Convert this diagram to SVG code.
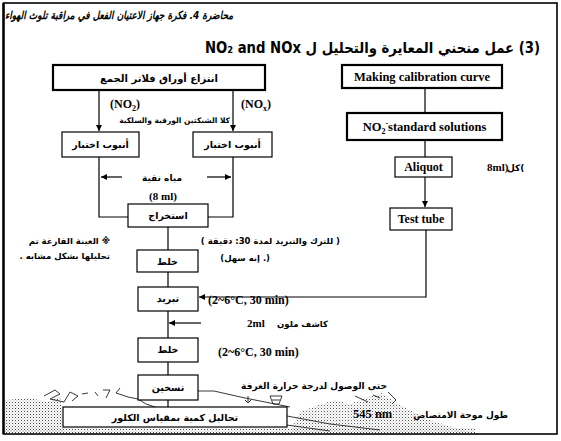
<svg xmlns="http://www.w3.org/2000/svg" width="561" height="441" viewBox="0 0 561 441">
<defs>
<style>
.ar{font-family:"DejaVu Sans",sans-serif;font-weight:bold;fill:#000}
.lat{font-family:"Liberation Serif","Times New Roman",serif;font-weight:bold;fill:#000}
.box{fill:#fff;stroke:#000;stroke-width:1.2}
.boxb{fill:#fff;stroke:#000;stroke-width:2.2}
.ln{fill:none;stroke:#000;stroke-width:1.2}
.deco{fill:none;stroke:#222;stroke-width:0.9}
</style>
<marker id="ah" markerWidth="8" markerHeight="8" refX="6" refY="3" orient="auto" markerUnits="userSpaceOnUse"><path d="M0,0 L6,3 L0,6 Z" fill="#000"/></marker>
<pattern id="stip" width="3" height="3" patternUnits="userSpaceOnUse"><rect x="0" y="0" width="1" height="1" fill="#444"/><rect x="1.5" y="1.5" width="1" height="1" fill="#999"/></pattern>
</defs>

<rect width="561" height="441" fill="#fff"/>
<!-- page frame -->
<rect x="3.5" y="3" width="553.5" height="431" fill="none" stroke="#000" stroke-width="1.6"/>
<line x1="3.5" y1="3" x2="3.5" y2="434" stroke="#000" stroke-width="2.4"/>

<!-- headings -->
<text class="ar" x="233" y="19" font-size="11" font-style="italic" direction="rtl" text-anchor="start" textLength="228" lengthAdjust="spacingAndGlyphs">محاضرة 4. فكرة جهاز الاعتيان الفعل في مراقبة تلوث الهواء</text>
<text class="ar" x="540" y="53" font-size="15" direction="rtl" text-anchor="start" textLength="335" lengthAdjust="spacingAndGlyphs">(3) عمل منحني المعايرة والتحليل ل NO₂ and NOx</text>

<!-- scenery sketch along the bottom -->
<g id="scenery">
<path d="M5,400 L30,398 L48,402 L60,396 L64,432 L5,432 Z" fill="url(#stip)"/>
<path d="M290,432 L300,412 L318,405 L335,400 L350,404 L365,398 L382,393 L395,402 L410,410 L430,420 L455,428 L470,432 Z" fill="url(#stip)" opacity="0.9"/>
<rect x="5" y="428" width="470" height="5" fill="url(#stip)"/>
<path class="deco" d="M44,396 L55,390 L60,394 L50,399 L64,402 L70,392 L78,396 L72,401"/>
<path class="deco" d="M82,394 L88,393 M95,392 L98,396 M103,390 L110,390 L106,398"/>
<path class="deco" d="M120,388 L116,393 L128,397 L138,399 L146,404 L158,408"/>
<path class="deco" d="M198,391 L214,391 L245,398 L270,403 L290,407"/>
<path class="deco" d="M287,416 L330,424 L380,430 M287,425 L330,431"/>
<path class="deco" d="M248,396 L248,402 M245,400 L248,403 L251,400"/>
<path class="deco" d="M270,396 L282,396 L279,404 L273,404 Z M272,400 L280,400"/>
<path class="deco" d="M355,396 L368,402 M373,395 L380,398 M388,392 L396,400 L392,404"/>
</g>

<!-- connectors -->
<g id="connectors">
<line class="ln" x1="99" y1="90" x2="99" y2="131" marker-end="url(#ah)"/>
<line class="ln" x1="233" y1="90" x2="233" y2="131" marker-end="url(#ah)"/>
<polyline class="ln" points="99,157 99,217 128,217"/>
<polyline class="ln" points="233,157 233,217 208,217"/>
<line class="ln" x1="122" y1="177" x2="101" y2="177" marker-end="url(#ah)"/>
<line class="ln" x1="207" y1="177" x2="231" y2="177" marker-end="url(#ah)"/>
<line class="ln" x1="168" y1="227" x2="168" y2="250"/>
<line class="ln" x1="168" y1="272" x2="168" y2="287"/>
<line class="ln" x1="168" y1="311" x2="168" y2="338"/>
<line class="ln" x1="201" y1="323" x2="169" y2="323" marker-end="url(#ah)"/>
<line class="ln" x1="168" y1="362" x2="168" y2="375"/>
<line class="ln" x1="168" y1="400" x2="168" y2="407"/>
<line class="ln" x1="425" y1="88" x2="425" y2="113"/>
<line class="ln" x1="425" y1="140" x2="425" y2="157"/>
<line class="ln" x1="425" y1="177" x2="425" y2="207" marker-end="url(#ah)"/>
<polyline class="ln" points="426,230 426,297 199,297" marker-end="url(#ah)"/>
</g>

<!-- left column: sample analysis -->
<g id="remove-filters">
<rect class="boxb" x="53" y="65" width="212" height="25" stroke-width="2.6"/>
<text class="ar" x="159" y="82" font-size="10" text-anchor="middle" direction="rtl">انتزاع أوراق فلاتر الجمع</text>
</g>
<g id="labels-nox">
<text class="lat" x="110" y="108" font-size="12">(NO<tspan font-size="8" dy="3">2</tspan><tspan dy="-3">)</tspan></text>
<text class="lat" x="241" y="108" font-size="12">(NO<tspan font-size="8" dy="3">x</tspan><tspan dy="-3">)</tspan></text>
<text class="ar" x="230" y="123" font-size="7.5" direction="rtl" text-anchor="start">كلا الشبكتين الورقية والسلكية</text>
</g>
<g id="tube-left">
<rect class="box" x="62" y="132" width="77" height="25"/>
<text class="ar" x="100.5" y="148" font-size="9.5" text-anchor="middle" direction="rtl">أنبوب اختبار</text>
</g>
<g id="tube-right">
<rect class="box" x="193" y="132" width="79" height="25"/>
<text class="ar" x="232.5" y="148" font-size="9.5" text-anchor="middle" direction="rtl">أنبوب اختبار</text>
</g>
<g id="pure-water">
<text class="ar" x="162" y="181" font-size="9" text-anchor="middle" direction="rtl">مياه نقية</text>
<text class="lat" x="163" y="200" font-size="11" text-anchor="middle">(8 ml)</text>
</g>
<g id="extract">
<rect class="box" x="128" y="204" width="80" height="23"/>
<text class="ar" x="168" y="219" font-size="9.5" text-anchor="middle" direction="rtl">استخراج</text>
</g>
<g id="blank-note">
<text class="ar" x="110" y="244" font-size="8.5" direction="rtl" text-anchor="start">※ العينة الفارغة تم</text>
<text class="ar" x="110" y="259" font-size="8.5" direction="rtl" text-anchor="start">تحليلها بشكل مشابه .</text>
</g>
<g id="standing-note">
<text class="ar" x="340" y="244" font-size="8.5" direction="rtl" text-anchor="start">( للترك والتبريد لمدة   30: دقيقة )</text>
<text class="ar" x="270" y="261" font-size="8.5" direction="rtl" text-anchor="start">(. إنه سهل)</text>
</g>
<g id="mix-1">
<rect class="box" x="137" y="250" width="61" height="22"/>
<text class="ar" x="167.5" y="265" font-size="9.5" text-anchor="middle" direction="rtl">خلط</text>
</g>
<g id="cool">
<rect class="box" x="138" y="287" width="60" height="24"/>
<text class="ar" x="168" y="302" font-size="9.5" text-anchor="middle" direction="rtl">تبريد</text>
</g>
<g id="cool-cond">
<text class="lat" x="208" y="304" font-size="12">(2~6°C, 30 min)</text>
<text class="lat" x="247" y="327" font-size="11">2ml</text>
<text class="ar" x="328" y="327" font-size="8.5" direction="rtl" text-anchor="start">كاشف ملون</text>
</g>
<g id="mix-2">
<rect class="box" x="138" y="338" width="60" height="24"/>
<text class="ar" x="168" y="353" font-size="9.5" text-anchor="middle" direction="rtl">خلط</text>
</g>
<text class="lat" x="218" y="356" font-size="12">(2~6°C, 30 min)</text>
<g id="heat">
<rect class="box" x="138" y="375" width="60" height="25"/>
<text class="ar" x="168" y="391" font-size="9.5" text-anchor="middle" direction="rtl">تسخين</text>
</g>
<text class="ar" x="387" y="389" font-size="9" direction="rtl" text-anchor="start">حتى الوصول لدرجة حرارة الغرفة</text>
<g id="measure">
<rect class="box" x="63" y="407" width="224" height="20"/>
<text class="ar" x="175" y="421" font-size="9.5" text-anchor="middle" direction="rtl">تحاليل كمية بمقياس الكلور</text>
</g>
<text class="lat" x="353" y="418" font-size="12.5">545 nm</text>
<text class="ar" x="508" y="418" font-size="9" direction="rtl" text-anchor="start">طول موجة الامتصاص</text>

<!-- right column: calibration -->
<g id="calibration">
<rect class="boxb" x="342" y="65" width="160" height="23"/>
<text class="lat" x="422" y="81" font-size="12.5" text-anchor="middle">Making calibration curve</text>
</g>
<g id="standards">
<rect class="boxb" x="347" y="113" width="155" height="27"/>
<text class="lat" x="424.5" y="131" font-size="12.5" text-anchor="middle">NO<tspan font-size="8" dy="3">2</tspan><tspan font-size="8" dy="-8">-</tspan><tspan dy="5">standard solutions</tspan></text>
</g>
<g id="aliquot">
<rect class="box" x="395" y="157" width="57" height="20"/>
<text class="lat" x="423.5" y="171" font-size="12" text-anchor="middle">Aliquot</text>
</g>
<text class="lat" x="487" y="171" font-size="11">8ml)</text>
<text class="ar" x="507" y="171" font-size="9">كل(</text>
<g id="test-tube">
<rect class="box" x="390" y="208" width="62" height="22"/>
<text class="lat" x="421" y="223" font-size="12" text-anchor="middle">Test tube</text>
</g>
</svg>
